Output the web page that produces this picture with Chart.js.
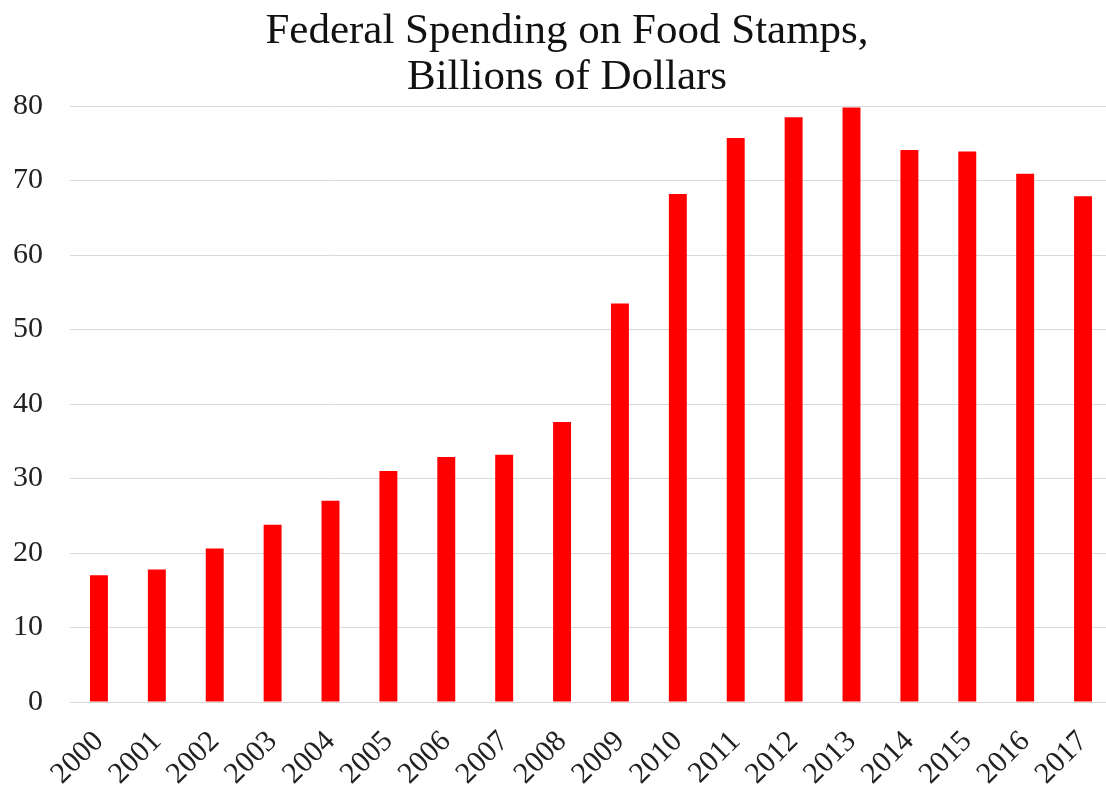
<!DOCTYPE html>
<html>
<head>
<meta charset="utf-8">
<script src="https://cdn.jsdelivr.net/npm/chart.js@4"></script>
<style>
  html, body { margin: 0; padding: 0; background: #fff; overflow: hidden; }
  #wrap { width: 1112px; height: 792px; }
</style>
</head>
<body>
<div id="wrap"><canvas id="foodStampsChart" width="1112" height="792"></canvas></div>
<script>
// Federal spending on food stamps, billions of dollars
const years = ['2000', '2001', '2002', '2003', '2004', '2005', '2006', '2007', '2008',
               '2009', '2010', '2011', '2012', '2013', '2014', '2015', '2016', '2017'];
const spending = [17.0, 17.8, 20.6, 23.8, 27.0, 31.0, 32.9, 33.2, 37.6,
                  53.5, 68.2, 75.7, 78.5, 79.8, 74.1, 73.9, 70.9, 67.9];
const yTicks = [0, 10, 20, 30, 40, 50, 60, 70, 80];
const titleLines = ['Federal Spending on Food Stamps,', 'Billions of Dollars'];

const serif = '"Liberation Serif", "Times New Roman", serif';

// nudge the title a little to the right, like the original
const titleShift = {
    id: 'titleShift',
    afterLayout(chart) {
        if (chart.titleBlock) {
            chart.titleBlock.left += 6;
            chart.titleBlock.right += 6;
        }
    }
};

const ctx = document.getElementById('foodStampsChart').getContext('2d');
new Chart(ctx, {
    type: 'bar',
    data: {
        labels: years,
        datasets: [{
            data: spending,
            backgroundColor: '#ff0000',
            borderWidth: 0,
            barPercentage: 0.62,
            categoryPercentage: 0.5
        }]
    },
    options: {
        responsive: false,
        animation: false,
        layout: { padding: { left: 10, right: 0, top: 9, bottom: 0 } },
        plugins: {
            legend: { display: false },
            tooltip: { enabled: false },
            title: {
                display: true,
                text: titleLines,
                color: '#111',
                font: { family: serif, size: 43, weight: 'normal', lineHeight: 1.07 },
                padding: { top: 0, bottom: 5 }
            }
        },
        scales: {
            x: {
                // rotated labels may hang over the left edge, as in the original
                afterFit: scale => {
                    scale.paddingLeft = 0;
                    scale.paddingRight = 0;
                    scale.height = 90;
                },
                grid: { display: false },
                border: { display: false },
                ticks: {
                    color: '#222',
                    font: { family: serif, size: 30 },
                    minRotation: 45,
                    maxRotation: 45,
                    padding: 14
                }
            },
            y: {
                min: 0,
                max: 80,
                afterFit: scale => { scale.width = 60; },
                afterBuildTicks: scale => { scale.ticks = yTicks.map(v => ({ value: v })); },
                grid: { color: '#d9d9d9', lineWidth: 1, drawTicks: false },
                border: { display: false },
                ticks: {
                    color: '#222',
                    font: { family: serif, size: 30 },
                    padding: 27
                }
            }
        }
    },
    plugins: [titleShift]
});
</script>
</body>
</html>
